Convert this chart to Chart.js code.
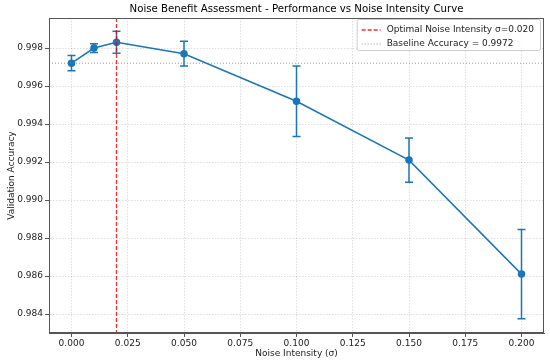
<!DOCTYPE html>
<html>
<head>
<meta charset="utf-8">
<script src="https://cdn.jsdelivr.net/npm/chart.js@4.4.1/dist/chart.umd.min.js"></script>
<style>
  body { margin: 0; background: #fff; }
</style>
</head>
<body>
<canvas id="chart" width="550" height="362"></canvas>
<script>
// values
var noiseLevels = [0, 0.01, 0.02, 0.05, 0.1, 0.15, 0.2];
var accuracy = [0.9972, 0.9980, 0.9983, 0.9977, 0.9952, 0.9921, 0.9861];
var accuracyStd = [0.0004, 0.00023, 0.00058, 0.00065, 0.00186, 0.00116, 0.00235];
var optimalNoise = 0.02;
var baselineAccuracy = 0.9972;

var lineColor = '#1a76b8';
var titleText = 'Noise Benefit Assessment - Performance vs Noise Intensity Curve';
var legendLabels = ['Optimal Noise Intensity \u03c3=0.020', 'Baseline Accuracy = 0.9972'];

Chart.defaults.font.family = '"DejaVu Sans", sans-serif';
Chart.defaults.color = '#222';

// error bars, reference lines, frame, title and legend
var extras = {
    id: 'extras',
    beforeDatasetsDraw: function(chart) {
        var ctx = chart.ctx, xs = chart.scales.x, ys = chart.scales.y;
        ctx.save();
        ctx.strokeStyle = lineColor;
        ctx.lineWidth = 1.5;
        noiseLevels.forEach(function(n, i) {
            var px = xs.getPixelForValue(n);
            var top = ys.getPixelForValue(accuracy[i] + accuracyStd[i]);
            var bot = ys.getPixelForValue(accuracy[i] - accuracyStd[i]);
            ctx.beginPath();
            ctx.moveTo(px, top); ctx.lineTo(px, bot);
            ctx.moveTo(px - 4, top); ctx.lineTo(px + 4, top);
            ctx.moveTo(px - 4, bot); ctx.lineTo(px + 4, bot);
            ctx.stroke();
        });
        ctx.restore();
    },
    afterDatasetsDraw: function(chart) {
        var ctx = chart.ctx, a = chart.chartArea, xs = chart.scales.x, ys = chart.scales.y;
        ctx.save();
        var vx = xs.getPixelForValue(optimalNoise);
        ctx.strokeStyle = 'rgba(230,0,0,0.8)';
        ctx.lineWidth = 1.3;
        ctx.setLineDash([4, 2]);
        ctx.beginPath(); ctx.moveTo(vx, a.top); ctx.lineTo(vx, a.bottom); ctx.stroke();
        var hy = ys.getPixelForValue(baselineAccuracy);
        ctx.strokeStyle = 'rgba(128,128,128,0.8)';
        ctx.lineWidth = 1;
        ctx.setLineDash([1, 2]);
        ctx.beginPath(); ctx.moveTo(a.left, hy); ctx.lineTo(a.right, hy); ctx.stroke();
        ctx.setLineDash([]);
        ctx.strokeStyle = '#555';
        ctx.strokeRect(a.left + 0.5, a.top + 0.5, a.right - a.left - 1, a.bottom - a.top - 1);
        ctx.restore();
    },
    afterDraw: function(chart) {
        var ctx = chart.ctx, a = chart.chartArea;
        ctx.save();
        // title centred over the plot area
        ctx.font = '10.2px "DejaVu Sans"';
        ctx.fillStyle = '#000';
        ctx.textAlign = 'center';
        ctx.textBaseline = 'middle';
        ctx.fillText(titleText, (a.left + a.right) / 2, 9);
        // legend
        ctx.textAlign = 'left';
        ctx.font = '9px "DejaVu Sans"';
        var w = 0;
        legendLabels.forEach(function(t) { w = Math.max(w, ctx.measureText(t).width); });
        var boxW = w + 36, boxH = 31;
        var bx = a.right - 4 - boxW, by = a.top + 1;
        ctx.fillStyle = 'rgba(255,255,255,0.85)';
        ctx.strokeStyle = '#ccc';
        ctx.lineWidth = 1;
        ctx.beginPath();
        ctx.roundRect(bx + 0.5, by + 0.5, boxW, boxH, 2);
        ctx.fill(); ctx.stroke();
        var rows = [by + 11, by + 25];
        ctx.lineWidth = 1.3;
        ctx.strokeStyle = 'rgba(230,0,0,0.8)';
        ctx.setLineDash([4, 2]);
        ctx.beginPath(); ctx.moveTo(bx + 5, rows[0]); ctx.lineTo(bx + 24, rows[0]); ctx.stroke();
        ctx.lineWidth = 1;
        ctx.strokeStyle = 'rgba(128,128,128,0.8)';
        ctx.setLineDash([1, 2]);
        ctx.beginPath(); ctx.moveTo(bx + 5, rows[1]); ctx.lineTo(bx + 24, rows[1]); ctx.stroke();
        ctx.setLineDash([]);
        ctx.fillStyle = '#222';
        legendLabels.forEach(function(t, i) { ctx.fillText(t, bx + 30, rows[i]); });
        ctx.restore();
    }
};

var points = noiseLevels.map(function(n, i) { return { x: n, y: accuracy[i] }; });

new Chart(document.getElementById('chart').getContext('2d'), {
    type: 'line',
    data: {
        datasets: [{
            data: points,
            borderColor: lineColor,
            backgroundColor: lineColor,
            borderWidth: 1.5,
            pointRadius: 3,
            pointHoverRadius: 3,
            tension: 0,
            fill: false
        }]
    },
    options: {
        responsive: false,
        animation: false,
        layout: { padding: { left: 0, right: 6, top: 18, bottom: 0 } },
        plugins: {
            legend: { display: false },
            tooltip: { enabled: false },
            title: { display: false }
        },
        scales: {
            x: {
                type: 'linear',
                min: -0.01,
                max: 0.21,
                afterFit: function(s) { s.height = 29; },
                ticks: {
                    stepSize: 0.025,
                    includeBounds: false,
                    padding: 1,
                    font: { size: 9 },
                    callback: function(v) { return v.toFixed(3); }
                },
                grid: { color: 'rgba(0,0,0,0.13)', tickColor: '#555', tickLength: 4, tickBorderDash: [] },
                border: { color: '#555', dash: [1.5, 1.5] },
                title: { display: true, text: 'Noise Intensity (\u03c3)', font: { size: 9 }, padding: { top: 0, bottom: 3 } }
            },
            y: {
                min: 0.983,
                max: 0.99958,
                afterFit: function(s) { s.width = 49; },
                ticks: {
                    stepSize: 0.002,
                    includeBounds: false,
                    padding: 2,
                    font: { size: 9 },
                    callback: function(v) { return v.toFixed(3); }
                },
                grid: { color: 'rgba(0,0,0,0.13)', tickColor: '#555', tickLength: 4, tickBorderDash: [] },
                border: { color: '#555', dash: [1.5, 1.5] },
                title: { display: true, text: 'Validation Accuracy', font: { size: 9 }, padding: { top: 6, bottom: 0 } }
            }
        }
    },
    plugins: [extras]
});
</script>
</body>
</html>
